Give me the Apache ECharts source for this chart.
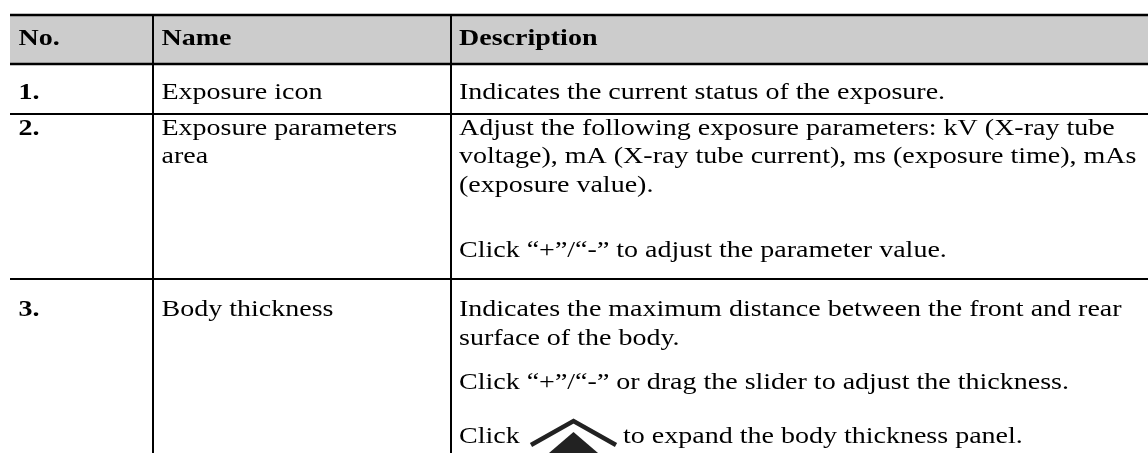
<!DOCTYPE html>
<html><head><meta charset="utf-8">
<script src="https://cdn.jsdelivr.net/npm/echarts@6/dist/echarts.min.js"></script>
<style>html,body{margin:0;padding:0;background:#fff}#c{width:1148px;height:453px}</style>
</head><body><div id="c"></div>
<script>
// ---- table content ----
const headers = ['No.', 'Name', 'Description'];
const rowNumbers = ['1.', '2.', '3.'];
const rowNames = [['Exposure icon'], ['Exposure parameters', 'area'], ['Body thickness']];
const rowDescriptions = [
  ['Indicates the current status of the exposure.'],
  ['Adjust the following exposure parameters: kV (X-ray tube',
   'voltage), mA (X-ray tube current), ms (exposure time), mAs',
   '(exposure value).',
   'Click \u201c+\u201d/\u201c-\u201d to adjust the parameter value.'],
  ['Indicates the maximum distance between the front and rear',
   'surface of the body.',
   'Click \u201c+\u201d/\u201c-\u201d or drag the slider to adjust the thickness.',
   'Click {icon} to expand the body thickness panel.']
];

// ---- layout (pixels on a 1148 x 453 canvas scale) ----
const W = 1148, H = 453;
const colEdges = [10, 153, 451, 1160];
const rowEdges = [15, 64, 114, 279, 480];
const ruleWidths = [2.5, 2.5, 2, 2];
const textInset = [8.5, 8.5, 8];
const headerBaseline = 46;
const lineBaselines = [[100], [135.5, 164, 192.5, 258], [317, 346, 390, 444]];
const fontPx = 24, stretchX = 1.167, middleOffset = 7;
const iconLayout = {start: 72, width: 85, resume: 164, apexRise: 24, stroke: 4.5, triTop: 11, triHalf: 35};

// ---- build items ----
const items = [];
headers.forEach((t, c) => items.push({col: c, y: headerBaseline, text: t, bold: true}));
rowNumbers.forEach((t, r) => items.push({col: 0, y: lineBaselines[r][0], text: t, bold: true}));
rowNames.forEach((lines, r) => lines.forEach((t, l) => items.push({col: 1, y: lineBaselines[r][l], text: t, bold: false})));
rowDescriptions.forEach((lines, r) => lines.forEach((t, l) => items.push({col: 2, y: lineBaselines[r][l], text: t, bold: false})));

const fontOf = b => (b ? 'bold ' : '') + fontPx + 'px "Liberation Serif", "Times New Roman", serif';

function textEl(x, y, text, bold) {
  return {type: 'text', x: x, y: y - middleOffset, scaleX: stretchX,
    style: {text: text, font: fontOf(bold), fill: '#000', align: 'left', verticalAlign: 'middle'}};
}

function renderText(params, api) {
  const it = items[params.dataIndex];
  const p = api.coord([api.value(0), api.value(1)]);
  const parts = it.text.split('{icon}');
  if (parts.length === 1) return textEl(p[0], p[1], it.text, it.bold);
  const x0 = p[0], base = p[1];
  const ix0 = x0 + iconLayout.start, ix1 = ix0 + iconLayout.width, mid = (ix0 + ix1) / 2;
  const yEnd = base + 1, yApex = yEnd - iconLayout.apexRise;
  const ty = yApex + iconLayout.triTop;
  return {type: 'group', children: [
    textEl(x0, base, parts[0].trim(), false),
    {type: 'polyline', shape: {points: [[ix0, yEnd], [mid, yApex], [ix1, yEnd]]},
      style: {stroke: '#222', lineWidth: iconLayout.stroke, fill: null, lineJoin: 'miter'}},
    {type: 'polygon', shape: {points: [[mid, ty], [mid + iconLayout.triHalf, ty + 30], [mid - iconLayout.triHalf, ty + 30]]},
      style: {fill: '#222'}},
    textEl(x0 + iconLayout.resume, base, parts[1].trim(), false)
  ]};
}

// rules: [x1, y1, x2, y2, lineWidth]
const rules = [];
rowEdges.slice(0, 4).forEach((y, i) => rules.push([colEdges[0], y, colEdges[3], y, ruleWidths[i]]));
[1, 2].forEach(c => rules.push([colEdges[c], rowEdges[0], colEdges[c], rowEdges[4], 2]));

function renderRule(params, api) {
  const a = api.coord([api.value(0), api.value(1)]);
  const b = api.coord([api.value(2), api.value(3)]);
  return {type: 'line', shape: {x1: a[0], y1: a[1], x2: b[0], y2: b[1]},
    style: {stroke: '#000', lineWidth: api.value(4)}};
}

function renderHeaderFill(params, api) {
  const a = api.coord([api.value(0), api.value(1)]);
  const b = api.coord([api.value(2), api.value(3)]);
  return {type: 'rect', shape: {x: a[0], y: a[1], width: b[0] - a[0], height: b[1] - a[1]},
    style: {fill: '#cccccc'}};
}

const chart = echarts.init(document.getElementById('c'), null, {renderer: 'canvas'});
chart.setOption({
  animation: false,
  backgroundColor: '#ffffff',
  grid: {left: 0, right: 0, top: 0, bottom: 0},
  xAxis: {type: 'value', min: 0, max: W, show: false},
  yAxis: {type: 'value', min: 0, max: H, inverse: true, show: false},
  series: [
    {type: 'custom', renderItem: renderHeaderFill, clip: false, silent: true,
      data: [[colEdges[0], rowEdges[0], colEdges[3], rowEdges[1]]]},
    {type: 'custom', renderItem: renderRule, clip: false, silent: true, z: 3, data: rules},
    {type: 'custom', renderItem: renderText, clip: false, silent: true, z: 4,
      data: items.map(it => [colEdges[it.col] + textInset[it.col], it.y])}
  ]
});
</script></body></html>
